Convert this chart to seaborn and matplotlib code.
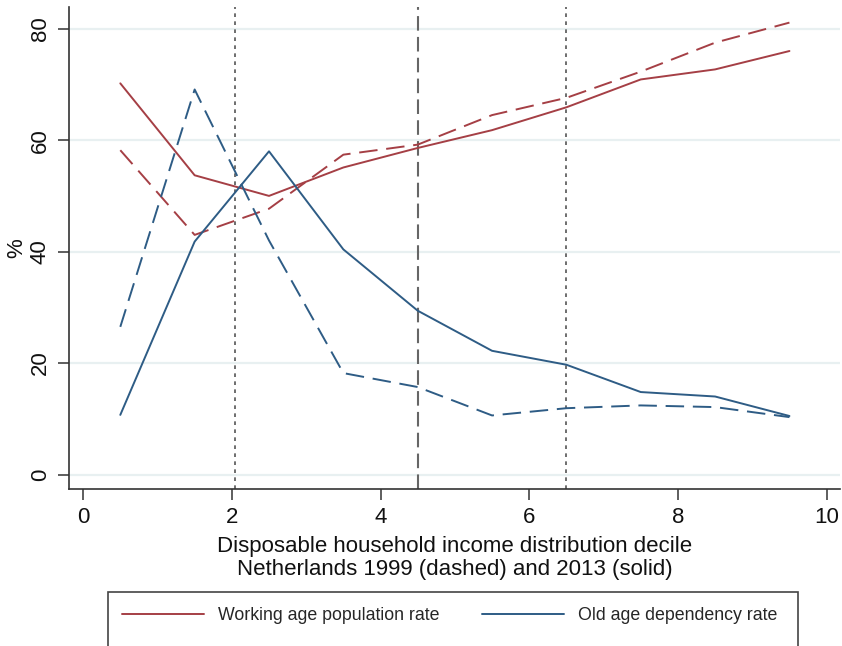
import numpy as np
import pandas as pd
import matplotlib
matplotlib.use("Agg")
import matplotlib.pyplot as plt
from matplotlib.patches import Rectangle
from matplotlib.lines import Line2D
import seaborn as sns

# Income deciles (plotted at decile mid-points)
deciles = [0.5, 1.5, 2.5, 3.5, 4.5, 5.5, 6.5, 7.5, 8.5, 9.5]

# Working age population rate (%)
work_1999 = [58.2, 43.0, 47.7, 57.4, 59.2, 64.5, 67.6, 72.3, 77.5, 81.1]
work_2013 = [70.2, 53.7, 50.0, 55.1, 58.6, 61.8, 65.9, 70.9, 72.7, 76.0]

# Old age dependency rate (%)
old_1999 = [26.5, 69.1, 42.0, 18.2, 15.7, 10.6, 11.9, 12.4, 12.1, 10.3]
old_2013 = [10.7, 41.8, 58.0, 40.4, 29.4, 22.2, 19.7, 14.8, 14.0, 10.5]

series_names = ["Working age population rate", "Old age dependency rate"]
years = ["1999", "2013"]

# Reference lines: poverty line (dotted), median (dashed), upper threshold (dotted)
ref_dotted = [2.04, 6.5]
ref_dashed = [4.5]

xticks = [0, 2, 4, 6, 8, 10]
yticks = [0, 20, 40, 60, 80]

frames = []
for name, y99, y13 in [(series_names[0], work_1999, work_2013),
                       (series_names[1], old_1999, old_2013)]:
    frames.append(pd.DataFrame({"decile": deciles, "value": y99, "series": name, "year": "1999"}))
    frames.append(pd.DataFrame({"decile": deciles, "value": y13, "series": name, "year": "2013"}))
df = pd.concat(frames, ignore_index=True)

sns.set_theme(style="white")
plt.rcParams["font.family"] = ["Liberation Sans", "DejaVu Sans"]

red = "#A53F45"
blue = "#2E5C85"
palette = {series_names[0]: red, series_names[1]: blue}
dashes = {"1999": (9.5, 4.5), "2013": ""}

fig = plt.figure(figsize=(8.42, 6.46), dpi=100)
ax = fig.add_axes([69 / 842, 157 / 646, (840 - 69) / 842, (489 - 7) / 646])

# light horizontal grid
for yt in yticks:
    ax.axhline(yt, color="#E8F0F1", lw=1.6, zorder=0)

for xv in ref_dotted:
    ax.axvline(xv, color="#555555", lw=1.2, linestyle=(0, (2.2, 2.6)), zorder=1)
for xv in ref_dashed:
    ax.axvline(xv, color="#666666", lw=1.5, linestyle=(0, (7, 3)), zorder=1)

sns.lineplot(data=df, x="decile", y="value", hue="series", style="year",
             palette=palette, dashes=dashes, linewidth=1.4,
             estimator=None, sort=False, legend=False, ax=ax, zorder=3)

ax.set_xlim(-0.19, 10.18)
ax.set_ylim(-2.6, 83.9)
ax.set_xticks(xticks)
ax.set_yticks(yticks)
ax.set_yticklabels([str(v) for v in yticks], rotation=90, va="center")

for side in ["top", "right"]:
    ax.spines[side].set_visible(False)
for side in ["left", "bottom"]:
    ax.spines[side].set_color("#333333")
    ax.spines[side].set_linewidth(1.2)

ax.tick_params(axis="both", which="major", direction="out", length=8, width=1.1,
               color="#333333", labelsize=16, labelcolor="#111111", pad=5,
               left=True, bottom=True)
ax.set_xlabel("Disposable household income distribution decile\n"
              "Netherlands 1999 (dashed) and 2013 (solid)",
              fontsize=16, color="#111111", labelpad=6, linespacing=1.1)
ax.set_ylabel("%", fontsize=16, color="#111111", labelpad=2)

# legend box below the plot area
fig.patches.append(Rectangle((108 / 842, -0.05), (798 - 108) / 842, 0.05 + (646 - 592) / 646,
                             transform=fig.transFigure, fill=False,
                             edgecolor="#444444", linewidth=1.2))
handles = [Line2D([], [], color=red, lw=1.4), Line2D([], [], color=blue, lw=1.4)]
fig.legend(handles, series_names, loc="center left", ncol=2, frameon=False,
           bbox_to_anchor=(115 / 842, 1 - 616 / 646), fontsize=12.8,
           handlelength=4.6, handletextpad=0.8, columnspacing=2.4,
           borderaxespad=0.0)

fig.savefig("out.png", dpi=100)
